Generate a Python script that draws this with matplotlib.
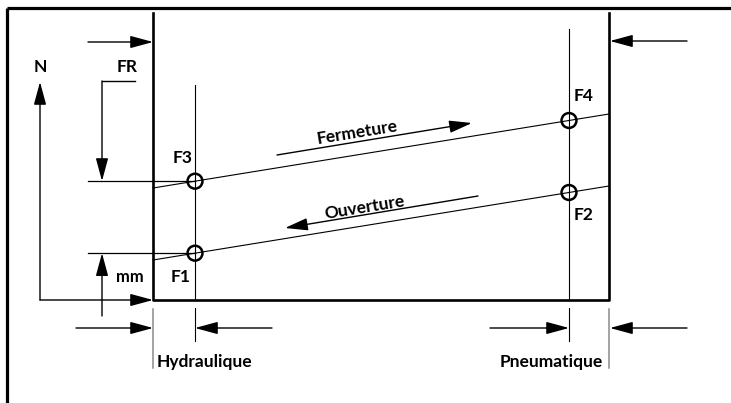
import numpy as np
import matplotlib.pyplot as plt

plt.rcParams['font.family'] = ['Lato', 'DejaVu Sans']

# diagram geometry in picture pixels (y grows downwards)
frame_x = [153, 609]          # thick left / right walls
frame_top, frame_bottom = 13, 300
valve_x = [195, 569]          # hydraulique / pneumatique positions
valve_top = [85, 29]
fermeture_y = [188, 114]      # line at frame_x[0], frame_x[1]
ouverture_y = [260, 186]
point_names = ['F3', 'F4', 'F1', 'F2']
point_labels = [(183, 158), (584, 96), (181, 277), (584, 215)]
cat_labels = ['Hydraulique', 'Pneumatique']

def line_y(y_ends, x):
    return y_ends[0] + (y_ends[1] - y_ends[0]) * (x - frame_x[0]) / (frame_x[1] - frame_x[0])

fig = plt.figure(figsize=(7.31, 4.03), dpi=100)
ax = fig.add_axes([0, 0, 1, 1])
ax.set_xlim(0, 731)
ax.set_ylim(403, 0)
ax.axis('off')

k = 'black'
fs = 12.5
arrow = dict(arrowstyle='-|>,head_length=1.4,head_width=0.38', color=k, lw=1,
             mutation_scale=10, shrinkA=0, shrinkB=0)

def arr(tail, tip):
    ax.annotate('', xy=tip, xytext=tail, arrowprops=arrow)

# outer picture border (top and left only)
ax.plot([7, 731], [8, 8], color=k, lw=2.3, solid_capstyle='butt')
ax.plot([7, 7], [8, 403], color=k, lw=2.3, solid_capstyle='butt')

# main box
ax.plot([frame_x[0], frame_x[0], frame_x[1], frame_x[1]],
        [frame_top, frame_bottom, frame_bottom, frame_top], color=k, lw=1.9)

# valve verticals and their dimension ticks
for x, yt in zip(valve_x, valve_top):
    ax.plot([x, x], [yt, frame_bottom], color=k, lw=0.8)
    ax.plot([x, x], [308, 341], color=k, lw=0.8)
for x in frame_x:
    ax.plot([x, x], [309, 368], color='#8a8a8a', lw=1.1)

# Fermeture / Ouverture lines
for ys in [fermeture_y, ouverture_y]:
    ax.plot(frame_x, ys, color=k, lw=0.8)

# F points
pts_x = [valve_x[0], valve_x[1], valve_x[0], valve_x[1]]
pts_y = [line_y(fermeture_y, valve_x[0]), line_y(fermeture_y, valve_x[1]),
         line_y(ouverture_y, valve_x[0]), line_y(ouverture_y, valve_x[1])]
ax.scatter(pts_x, pts_y, s=115, facecolor='none', edgecolor=k, linewidths=1.8, zorder=3)
for name, (lx, ly) in zip(point_names, point_labels):
    ax.text(lx, ly, name, fontsize=fs, fontweight='bold', ha='center', va='center')

# top push arrows
arr((88, 42), (frame_x[0], 42))
arr((687, 41), (frame_x[1] + 1, 41))

# N axis
arr((40, frame_bottom), (40, 82))
arr((40, frame_bottom), (frame_x[0], frame_bottom))
ax.text(40, 67, 'N', fontsize=fs, fontweight='bold', ha='center', va='center')

# FR
ax.plot([135, 102], [81, 81], color=k, lw=1)
arr((102, 81), (102, 181))
ax.text(127, 67, 'FR', fontsize=fs, fontweight='bold', ha='center', va='center')
ax.plot([88, valve_x[0]], [pts_y[0], pts_y[0]], color=k, lw=0.9)

# mm
ax.plot([88, valve_x[0]], [pts_y[2], pts_y[2]], color=k, lw=0.9)
arr((102, 316), (102, pts_y[2]))
ax.text(130, 277, 'mm', fontsize=12, fontweight='bold', ha='center', va='center')

# bottom dimension arrows
arr((76, 328), (frame_x[0], 328))
arr((272, 328), (valve_x[0], 328))
arr((490, 328), (valve_x[1], 328))
arr((687, 328), (frame_x[1] + 1, 328))
ax.text(157, 362, cat_labels[0], fontsize=fs, fontweight='bold', ha='left', va='center')
ax.text(603, 362, cat_labels[1], fontsize=fs, fontweight='bold', ha='right', va='center')

# direction arrows
ang = np.degrees(np.arctan((fermeture_y[0] - fermeture_y[1]) / (frame_x[1] - frame_x[0])))
arr((277, 155), (472, 123))
ax.text(357, 133, 'Fermeture', fontsize=fs, fontweight='bold', rotation=ang,
        ha='center', va='center', rotation_mode='anchor')
arr((478, 196), (285, 228))
ax.text(365, 208, 'Ouverture', fontsize=fs, fontweight='bold', rotation=ang,
        ha='center', va='center', rotation_mode='anchor')

fig.savefig('out.png', dpi=100)
